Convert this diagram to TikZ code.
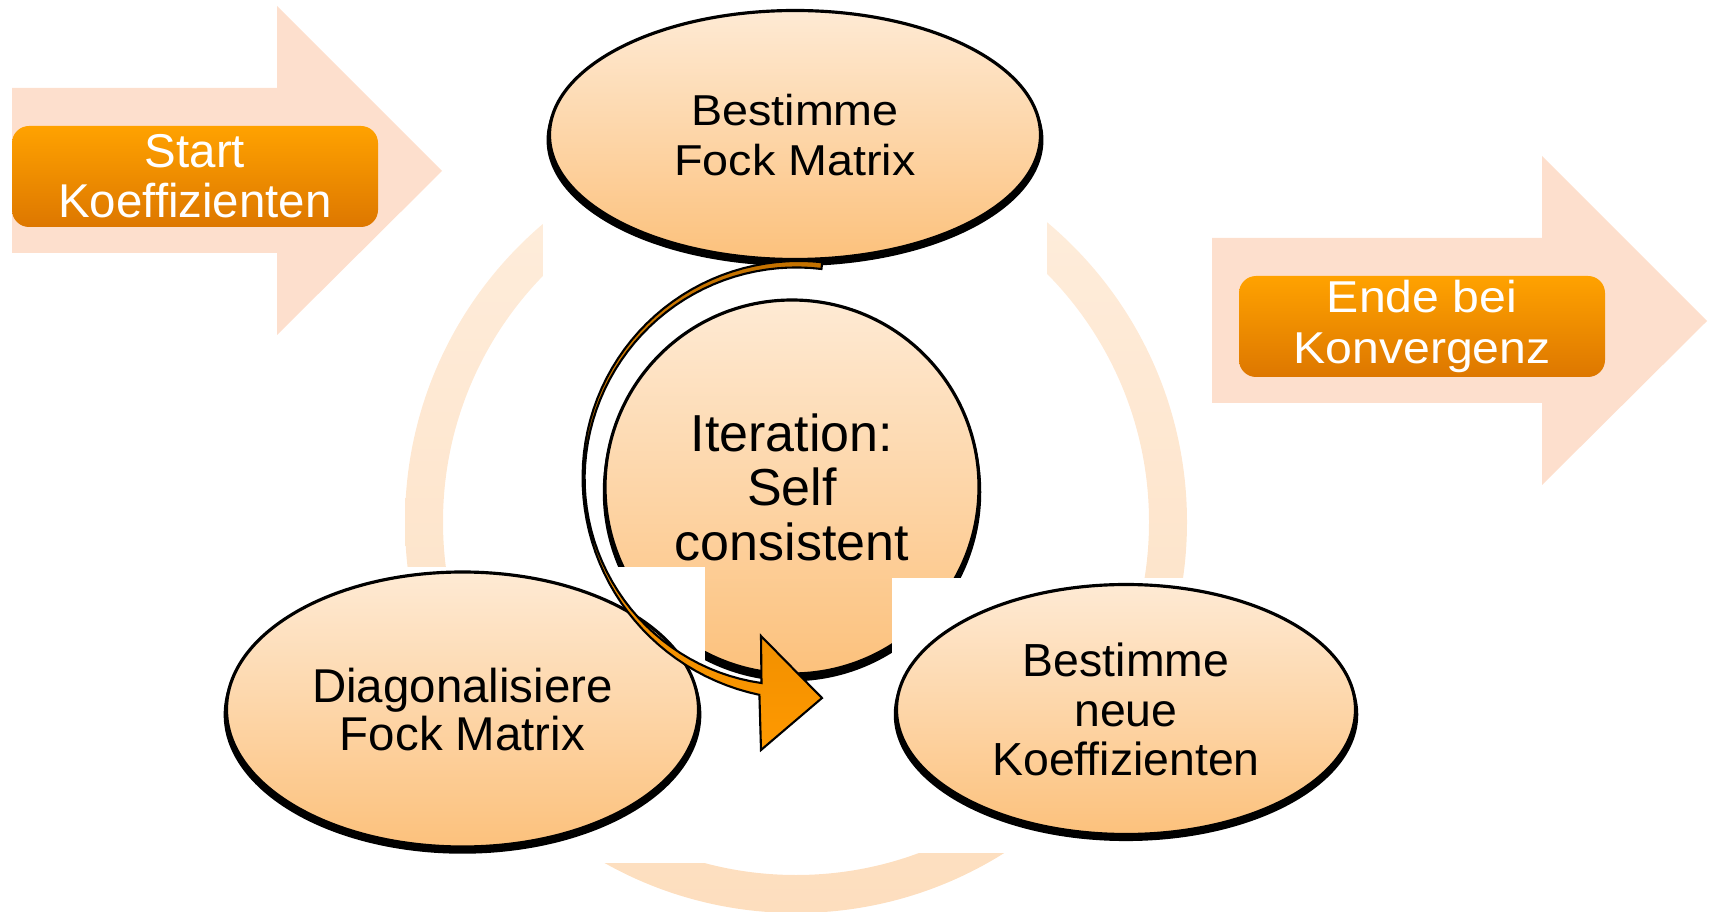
\documentclass[tikz,border=0pt]{standalone}
\usepackage{fontspec}
\setmainfont{Liberation Sans}
\newfontfamily\breitfont[FakeStretch=1.08]{Liberation Sans}
\usetikzlibrary{shapes.geometric,shadows}

\definecolor{pfeilhell}{RGB}{253,223,205}
\definecolor{ringoben}{RGB}{254,238,222}
\definecolor{ringunten}{RGB}{253,222,190}
\definecolor{blaseoben}{RGB}{254,234,212}
\definecolor{blaseunten}{RGB}{252,193,124}
\definecolor{knopfoben}{RGB}{255,162,0}
\definecolor{knopfunten}{RGB}{221,119,0}
\definecolor{bogenoben}{RGB}{196,114,0}
\definecolor{bogenunten}{RGB}{255,153,0}

\tikzset{
  bubble/.style={ellipse, draw=black, line width=0.9pt, inner sep=0pt, outer sep=0pt,
    top color=blaseoben, bottom color=blaseunten, align=center,
    drop shadow={shadow xshift=0mm, shadow yshift=-0.5mm, shadow scale=1.012, opacity=1, fill=black}},
  knopf/.style={rectangle, rounded corners=1.7mm, inner sep=0pt,
    top color=knopfoben, bottom color=knopfunten, text=white, align=center,
    minimum width=36.6mm, minimum height=10.1mm},
  declare function={bandw(\t)=2+0.05*max(0,180-\t)+10*(max(0,\t-180)/80)^2;}
}

\begin{document}
\begin{tikzpicture}[x=0.1mm,y=0.1mm]
\useasboundingbox (0,0) rectangle (1710,-912);

%左右两个浅色大箭头
\fill[pfeilhell] (12,-88) -- (277,-88) -- (277,-6) -- (442,-171) -- (277,-335) -- (277,-253) -- (12,-253) -- cycle;
\fill[pfeilhell] (1212,-238) -- (1542,-238) -- (1542,-156) -- (1707,-321) -- (1542,-485) -- (1542,-403) -- (1212,-403) -- cycle;

%背景圆环
\path[even odd rule, top color=ringoben, bottom color=ringunten]
  (796,-522) circle[radius=391] (796,-522) circle[radius=353];

%中间的圆
\node[bubble, circle, minimum size=37.4mm, font=\fontsize{14.8}{15.5}\selectfont] (iter) at (792,-487) {Iteration:\\Self\\consistent};

%三个椭圆后面的白底
\fill[white] (543,-100) rectangle (1047,-285);
\fill[white] (380,-567) rectangle (705,-863);
\fill[white] (892,-578) rectangle (1200,-853);

%三个椭圆
\node[bubble, minimum width=49.1mm, minimum height=24.9mm, font=\breitfont\fontsize{12.3}{14.2}\selectfont] (fock) at (795,-135) {Bestimme\\Fock Matrix};
\node[bubble, minimum width=47.2mm, minimum height=27.5mm, font=\fontsize{13.5}{13.9}\selectfont] (diag) at (462.5,-709.5) {Diagonalisiere\\Fock Matrix};
\node[bubble, minimum width=45.9mm, minimum height=25mm, font=\fontsize{13.2}{14.2}\selectfont] (neu) at (1126,-709.5) {Bestimme\\neue\\Koeffizienten};

%橙色按钮
\node[knopf, font=\fontsize{13.5}{14.2}\selectfont] (start) at (195,-176.5) {Start\\Koeffizienten};
\node[knopf, font=\breitfont\fontsize{12.7}{14.5}\selectfont] (ende) at (1422,-326.5) {Ende bei\\Konvergenz};

%绕圆的弯箭头
\draw[line width=0.6pt, top color=bogenoben, bottom color=bogenunten]
  plot[domain=83.5:260, samples=60] ({797.6+(214-0.5*bandw(\x))*cos(\x)}, {-478.2+(214-0.5*bandw(\x))*sin(\x)})
  -- (761,-636) -- (822,-698) -- (761,-750)
  -- plot[domain=260:83.5, samples=60] ({797.6+(214+0.5*bandw(\x))*cos(\x)}, {-478.2+(214+0.5*bandw(\x))*sin(\x)})
  -- cycle;

\end{tikzpicture}
\end{document}
